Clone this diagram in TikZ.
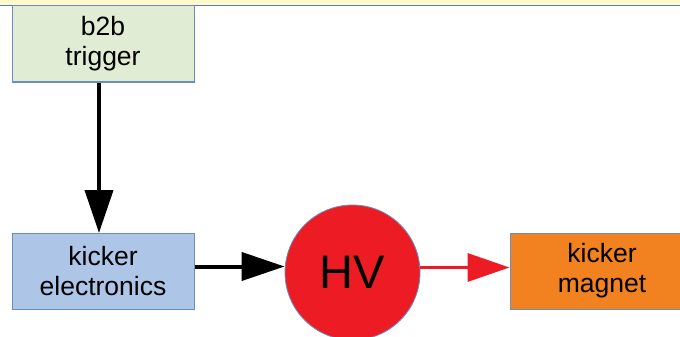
\documentclass[tikz,border=0pt]{standalone}
\usepackage{fontspec}
\setmainfont{Liberation Sans}
\usetikzlibrary{arrows.meta}
\definecolor{bandyellow}{HTML}{FFF8CA}
\definecolor{bandline}{HTML}{5B7DB1}
\definecolor{boxborder}{HTML}{6C8EBF}
\definecolor{trigfill}{HTML}{E0EDD4}
\definecolor{elecfill}{HTML}{ADC5E7}
\definecolor{hvred}{HTML}{ED1C24}
\definecolor{magfill}{HTML}{F28120}
\begin{document}
\begin{tikzpicture}[x=1pt,y=-1pt,
  box/.style={draw=boxborder,line width=1pt,minimum width=182pt,minimum height=76pt,
    align=center,inner sep=0pt,font=\fontsize{26.5}{30}\selectfont},
  blkarrow/.style={line width=4pt,-{Triangle[length=43pt,width=28pt]}},
  redarrow/.style={draw=hvred,line width=3.5pt,-{Triangle[length=42pt,width=28pt]}}]
\useasboundingbox (0,0) rectangle (680,337);
\clip (0,0) rectangle (680,337);
\fill[bandyellow] (0,0) rectangle (680,5);
\draw[bandline,line width=1.5pt] (0,5.5) -- (680,5.5);
\node[box,fill=trigfill] (trig) at (103,44) {b2b\\trigger};
\node[box,fill=elecfill] (elec) at (103,271.5) {kicker\\electronics};
\node[box,fill=magfill,minimum width=184pt] (mag) at (602,271) {kicker\\magnet};
\node[circle,fill=hvred,draw=boxborder,line width=0.8pt,minimum size=135pt,inner sep=0pt,
  font=\fontsize{47}{50}\selectfont] (hv) at (352.5,272.5) {HV};
\draw[blkarrow] ([xshift=-4pt]trig.south) -- ([xshift=-4pt]elec.north);
\draw[blkarrow] ([yshift=5pt]elec.east) -- ([yshift=5pt]elec.east -| hv.west);
\draw[redarrow] ([yshift=5pt]hv.east) -- ([yshift=5pt]hv.east -| mag.west);
\end{tikzpicture}
\end{document}
